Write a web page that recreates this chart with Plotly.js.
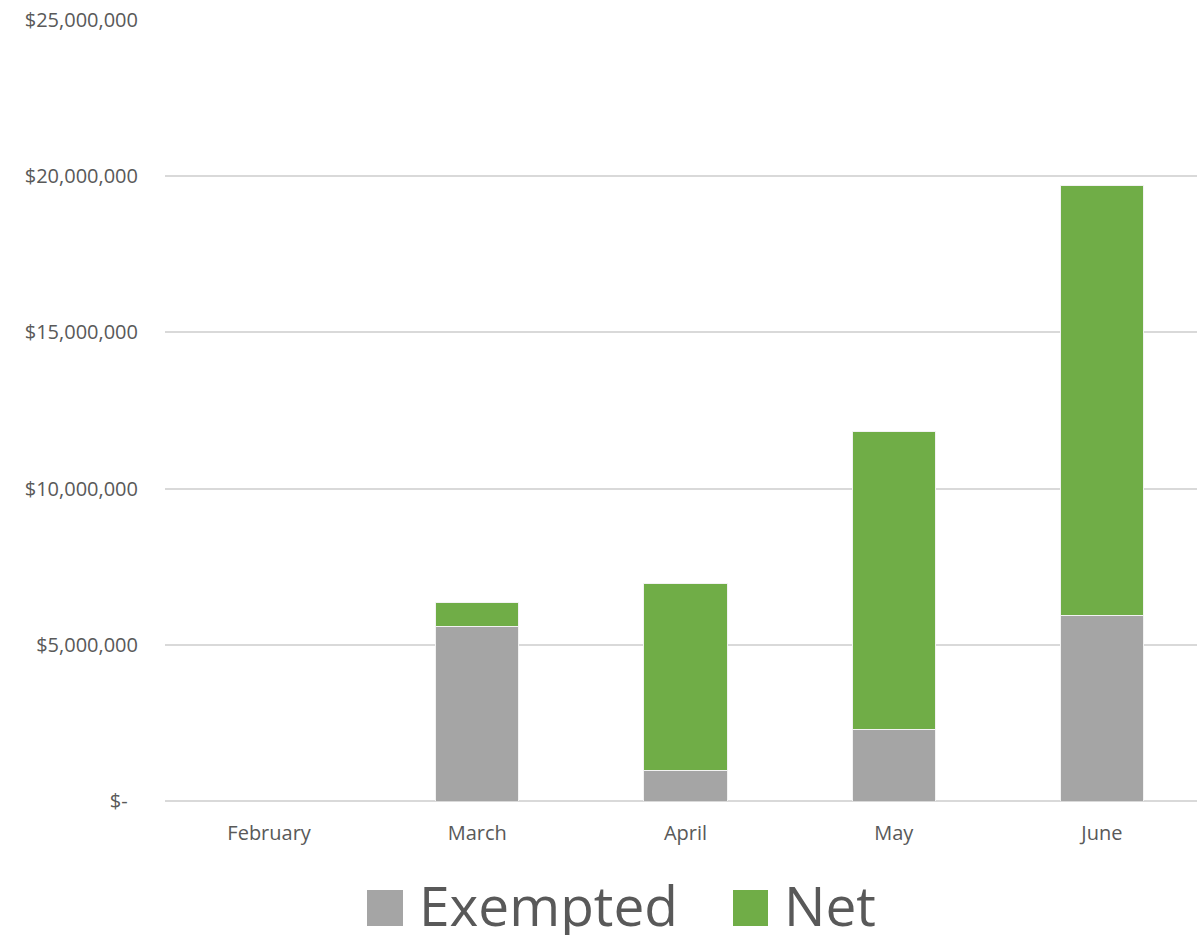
<!DOCTYPE html>
<html><head><meta charset="utf-8">
<script src="https://cdn.plot.ly/plotly-3.0.1.min.js"></script>
<style>html,body{margin:0;background:#fff;overflow:hidden}#chart{width:1206px;height:940px}</style>
</head><body><div id="chart"></div>
<script>
const months = ["February","March","April","May","June"];
const exempted = [0, 5570000, 990000, 2300000, 5950000];
const net = [0, 770000, 5960000, 9540000, 13740000];
const seriesNames = ["Exempted", "Net"];
const seriesColors = ["#A5A5A5", "#70AD47"];
const tickVals = [0, 5000000, 10000000, 15000000, 20000000, 25000000];
const tickText = ["$-\u00a0\u00a0", "$5,000,000", "$10,000,000", "$15,000,000", "$20,000,000", "$25,000,000"];

const font = "Open Sans, Liberation Sans, sans-serif";
const traces = [
  {type:"bar", name:seriesNames[0], x:months, y:exempted, marker:{color:seriesColors[0], line:{color:"#f2f2f2", width:1}}, width:0.4},
  {type:"bar", name:seriesNames[1], x:months, y:net, marker:{color:seriesColors[1], line:{color:"#f2f2f2", width:1}}, width:0.4}
];

// manual legend (large squares as in reference)
const W = 1206, L = 165, PW = W - L;
const px = v => (v - L) / PW;
const py = v => (801 - v) / 781;
const legendItems = [
  {sq:[367,403], tx:418},
  {sq:[733,768], tx:783}
];
const shapes = [], annotations = [];
legendItems.forEach((it, i) => {
  shapes.push({type:"rect", xref:"paper", yref:"paper", x0:px(it.sq[0]), x1:px(it.sq[1]), y0:py(926), y1:py(890), fillcolor:seriesColors[i], line:{width:0}});
  annotations.push({xref:"paper", yref:"paper", x:px(it.tx), y:py(904), xanchor:"left", yanchor:"middle", height:62, valign:"middle", borderpad:0, showarrow:false, text:seriesNames[i], font:{size:55, color:"#595959", family:font}});
});

const layout = {
  width:W, height:940,
  margin:{l:L, r:0, t:20, b:139},
  barmode:"stack",
  paper_bgcolor:"#fff", plot_bgcolor:"#fff",
  font:{family:font, color:"#595959", size:20},
  xaxis:{showgrid:false, showline:false, ticks:"", tickfont:{size:20, color:"#595959"}, zeroline:false, ticklabelstandoff:18},
  yaxis:{range:[0,25000000], tickvals:tickVals, ticktext:tickText, showgrid:true, gridcolor:"#D9D9D9", gridwidth:2, zeroline:true, zerolinecolor:"#D9D9D9", zerolinewidth:2, ticks:"", ticklabelstandoff:26, tickfont:{size:20, color:"#595959"}},
  showlegend:false,
  shapes:shapes, annotations:annotations
};
Plotly.newPlot("chart", traces, layout, {displayModeBar:false});
</script></body></html>
